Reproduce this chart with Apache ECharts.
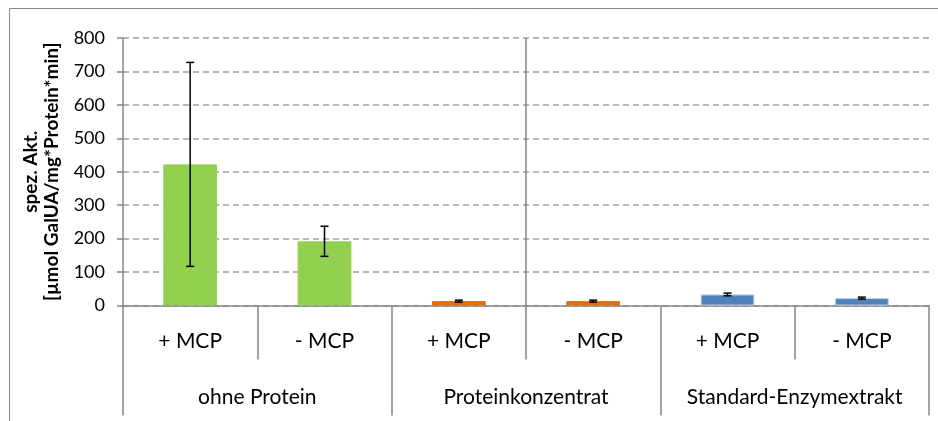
<!DOCTYPE html>
<html>
<head>
<meta charset="utf-8">
<script src="https://cdn.jsdelivr.net/npm/echarts@6/dist/echarts.min.js"></script>
<style>html,body{margin:0;padding:0;background:#fff;}#c{width:938px;height:421px;}</style>
</head>
<body>
<div id="c"></div>
<script>
const subCategories = ['+ MCP', '- MCP', '+ MCP', '- MCP', '+ MCP', '- MCP'];
const groups = ['ohne Protein', 'Proteinkonzentrat', 'Standard-Enzymextrakt'];
const values = [422, 192, 13, 13, 33, 22];
const errors = [305, 45, 3, 3, 4, 3];
const groupColors = ['#92D050', '#E46C0A', '#4F81BD'];
const groupBorders = ['#92D050', '#E46C0A', '#B9CDE5'];
const yMin = 0, yMax = 800, yStep = 100;
const yTitle = 'spez. Akt.\n[µmol GalUA/mg*Protein*min]';

const FONT = 'Lato';
const AXIS_GRAY = '#868686';

const chart = echarts.init(document.getElementById('c'), null, {renderer: 'canvas'});
chart.setOption({
  animation: false,
  backgroundColor: '#fff',
  textStyle: {fontFamily: FONT},
  graphic: [{
    type: 'rect', silent: true, z: -1,
    shape: {x: 9.5, y: 8.5, width: 940, height: 420},
    style: {fill: 'none', stroke: AXIS_GRAY, lineWidth: 1}
  }],
  grid: {left: 123, right: 9, top: 38, bottom: 115.5, containLabel: false},
  xAxis: [
    {
      type: 'category', data: subCategories, position: 'bottom',
      axisLine: {show: true, lineStyle: {color: AXIS_GRAY, width: 1.5}},
      axisTick: {show: true, interval: 0, length: 54, lineStyle: {color: AXIS_GRAY, width: 1.5}},
      axisLabel: {interval: 0, margin: 25, fontSize: 21, color: '#000', fontFamily: FONT},
      splitLine: {show: false}
    },
    {
      type: 'category', data: groups, position: 'bottom', offset: 0,
      axisLine: {show: false},
      axisTick: {show: true, interval: 0, length: 110, lineStyle: {color: AXIS_GRAY, width: 1.5}},
      axisLabel: {interval: 0, margin: 81, fontSize: 21, color: '#000', fontFamily: FONT},
      splitLine: {show: false}
    },
    {
      type: 'value', min: 0, max: 2, interval: 1, position: 'top',
      axisLine: {show: false}, axisTick: {show: false}, axisLabel: {show: false},
      splitLine: {show: true, showMinLine: false, showMaxLine: false, lineStyle: {color: AXIS_GRAY, width: 1.5, type: 'solid'}}
    }
  ],
  yAxis: {
    type: 'value', min: yMin, max: yMax, interval: yStep,
    name: yTitle, nameLocation: 'middle', nameGap: 59,
    nameTextStyle: {fontSize: 19, fontWeight: 'bold', color: '#000', fontFamily: FONT, lineHeight: 21},
    axisLine: {show: true, lineStyle: {color: AXIS_GRAY, width: 1.5}},
    axisTick: {show: true, length: 6, lineStyle: {color: AXIS_GRAY, width: 1.5}},
    axisLabel: {margin: 18, fontSize: 18, color: '#000', fontFamily: FONT},
    splitLine: {show: true, lineStyle: {color: '#A0A0A0', width: 1.5, type: [6, 4]}}
  },
  series: [
    {
      type: 'bar', xAxisIndex: 0, yAxisIndex: 0, barWidth: '40%',
      data: values.map((v, i) => ({
        value: v,
        itemStyle: {color: groupColors[Math.floor(i / 2)], borderColor: groupBorders[Math.floor(i / 2)], borderWidth: 1}
      })),
      z: 2
    },
    {
      type: 'custom', xAxisIndex: 0, yAxisIndex: 0, z: 5,
      data: values.map((v, i) => [i, v, errors[i]]),
      encode: {x: 0, y: 1},
      renderItem: function (params, api) {
        const x = api.value(0), v = api.value(1), e = api.value(2);
        const top = api.coord([x, v + e]);
        const bot = api.coord([x, v - e]);
        const h = 4;
        const st = {stroke: '#000', lineWidth: 1.5};
        return {
          type: 'group',
          children: [
            {type: 'line', shape: {x1: top[0], y1: top[1], x2: bot[0], y2: bot[1]}, style: st},
            {type: 'line', shape: {x1: top[0] - h, y1: top[1], x2: top[0] + h, y2: top[1]}, style: st},
            {type: 'line', shape: {x1: bot[0] - h, y1: bot[1], x2: bot[0] + h, y2: bot[1]}, style: st}
          ]
        };
      }
    }
  ]
});
</script>
</body>
</html>
